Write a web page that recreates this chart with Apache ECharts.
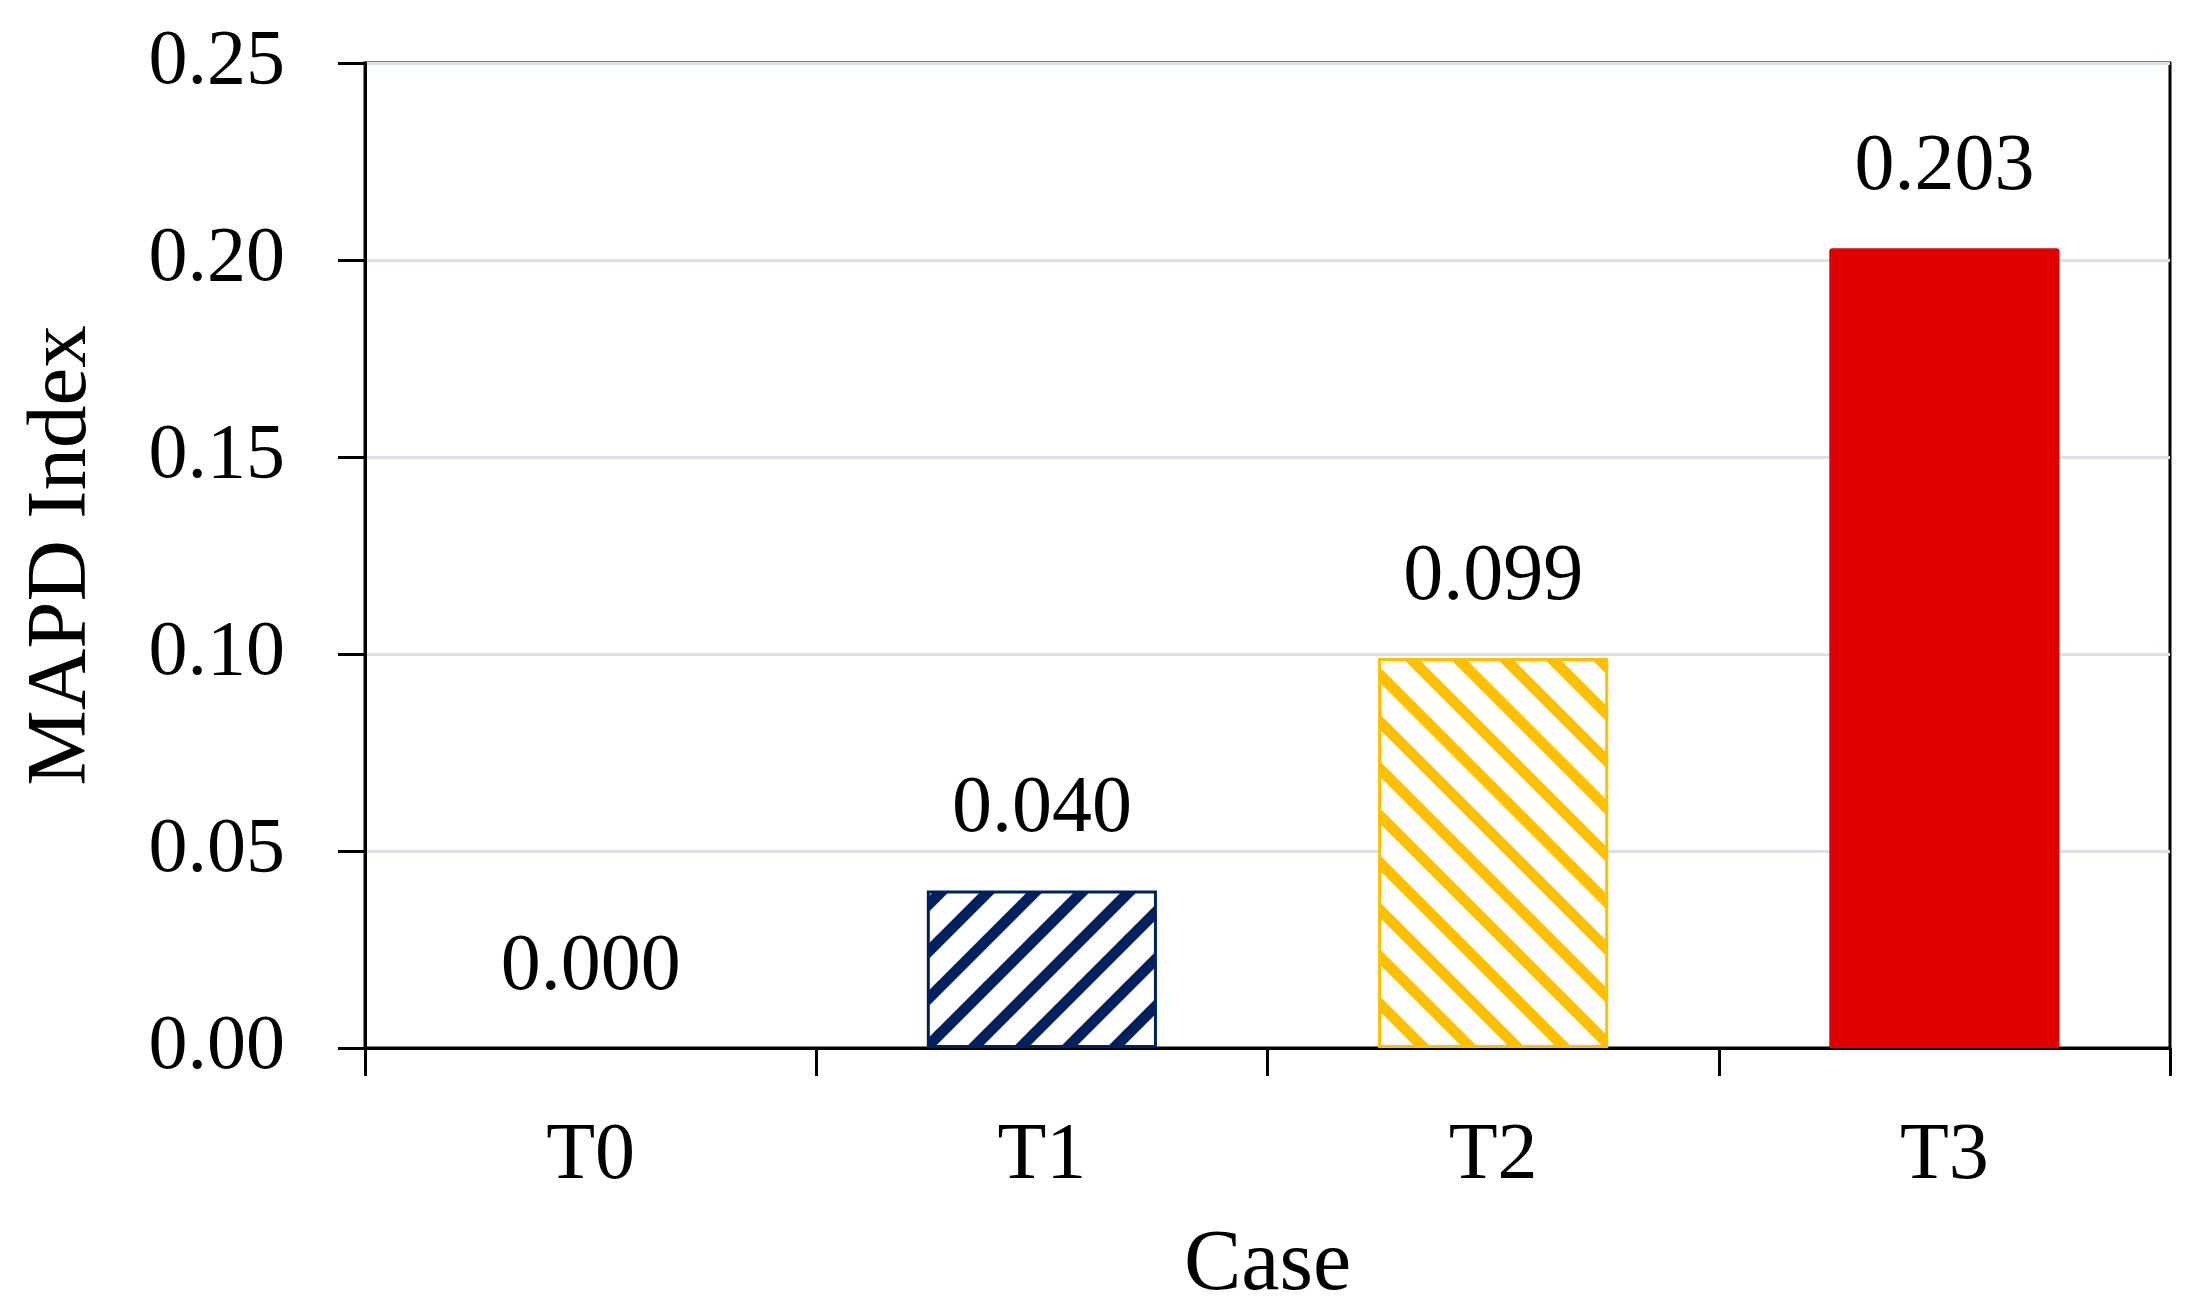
<!DOCTYPE html>
<html>
<head>
<meta charset="utf-8">
<script src="https://cdn.jsdelivr.net/npm/echarts@6/dist/echarts.min.js"></script>
<style>
html,body{margin:0;padding:0;background:#fff;}
#chart{width:2194px;height:1314px;}
</style>
</head>
<body>
<div id="chart"></div>
<script>
const categories = ['T0', 'T1', 'T2', 'T3'];
const values = [0.000, 0.040, 0.099, 0.203];
const yTicks = [0.00, 0.05, 0.10, 0.15, 0.20, 0.25];
const xName = 'Case';
const yName = 'MAPD Index';

function hatch(color, dir) {
  const s = 47;
  const c = document.createElement('canvas');
  c.width = s; c.height = s;
  const ctx = c.getContext('2d');
  ctx.fillStyle = '#fff';
  ctx.fillRect(0, 0, s, s);
  ctx.strokeStyle = color;
  ctx.lineWidth = 11;
  ctx.lineCap = 'square';
  for (let k = -1; k <= 1; k++) {
    ctx.beginPath();
    if (dir === '/') {
      ctx.moveTo(k * s, s); ctx.lineTo(k * s + s, 0);
    } else {
      ctx.moveTo(k * s, 0); ctx.lineTo(k * s + s, s);
    }
    ctx.stroke();
  }
  return { image: c, repeat: 'repeat' };
}

const navy = '#002060';
const gold = '#FFC000';
const red = '#E00000';
const styles = [
  { color: '#fff', borderColor: '#fff', borderWidth: 0 },
  { color: hatch(navy, '/'), borderColor: navy, borderWidth: 3 },
  { color: hatch(gold, '\\'), borderColor: gold, borderWidth: 3 },
  { color: red, borderColor: red, borderWidth: 0, borderRadius: [3, 3, 0, 0] }
];

const font = '"Liberation Serif", "DejaVu Serif", serif';
const chart = echarts.init(document.getElementById('chart'));
chart.setOption({
  animation: false,
  backgroundColor: '#fff',
  grid: {
    left: 365, right: 24, top: 63, bottom: 266,
    containLabel: false,
    outerBoundsMode: 'none',
    show: true, borderColor: '#000', borderWidth: 3, backgroundColor: 'transparent'
  },
  xAxis: {
    type: 'category',
    data: categories,
    name: xName,
    nameLocation: 'middle',
    nameGap: 175,
    nameTextStyle: { fontFamily: font, fontSize: 86, color: '#000' },
    axisLine: { lineStyle: { color: '#000', width: 3 } },
    axisTick: { show: true, alignWithLabel: false, length: 28, lineStyle: { color: '#000', width: 3 } },
    axisLabel: { fontFamily: font, fontSize: 80, color: '#000', margin: 69 }
  },
  yAxis: {
    type: 'value',
    min: 0, max: 0.25, interval: 0.05,
    name: yName,
    nameLocation: 'middle',
    nameGap: 260,
    nameTextStyle: { fontFamily: font, fontSize: 85, color: '#000' },
    axisLine: { show: true, lineStyle: { color: '#000', width: 3 } },
    axisTick: { show: true, length: 27, lineStyle: { color: '#000', width: 3 } },
    axisLabel: {
      fontFamily: font, fontSize: 78, color: '#000', margin: 80,
      formatter: v => {
        const t = yTicks.find(x => Math.abs(x - v) < 1e-9);
        return (t !== undefined ? t : v).toFixed(2);
      }
    },
    splitLine: { show: true, lineStyle: { color: '#d9e2ec', width: 3 } }
  },
  series: [{
    type: 'bar',
    barWidth: '51%',
    data: values.map((v, i) => ({ value: v, itemStyle: styles[i] })),
    label: {
      show: true,
      position: 'top',
      distance: 40,
      fontFamily: font,
      fontSize: 80,
      color: '#000',
      formatter: p => p.value.toFixed(3)
    }
  }]
});
</script>
</body>
</html>
